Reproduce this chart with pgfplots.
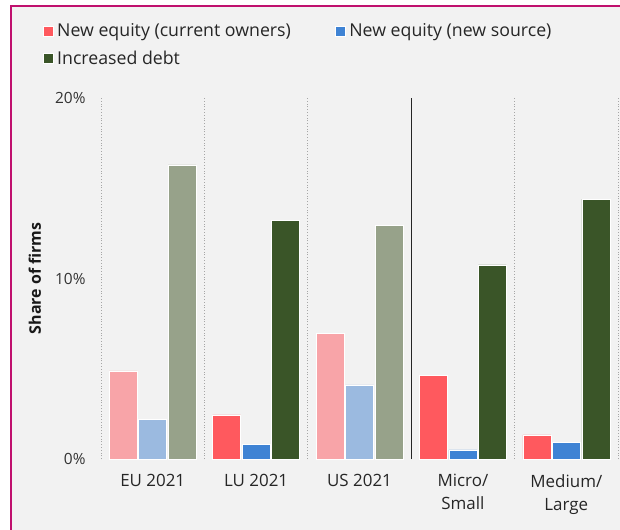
\documentclass[border=0pt]{standalone}
\usepackage{fontspec}
\setmainfont{Open Sans}
\usepackage{pgfplots}
\pgfplotsset{compat=1.18}

\definecolor{bgGray}{HTML}{F2F2F2}
\definecolor{frameMag}{HTML}{C0106E}
\definecolor{cRed}{HTML}{FF595E}
\definecolor{cBlue}{HTML}{3F83D4}
\definecolor{cGreen}{HTML}{3A5528}
\definecolor{fRed}{HTML}{F8A4A8}
\definecolor{fBlue}{HTML}{9BBAE0}
\definecolor{fGreen}{HTML}{97A28A}

\begin{document}
\begin{tikzpicture}
  % page: 620 x 530, axis box lower left at image px (101,459)
  \useasboundingbox (-101bp,-71bp) rectangle (519bp,459bp);
  \fill[white] (-101bp,-71bp) rectangle (519bp,459bp);
  \fill[bgGray] (-90bp,-71bp) rectangle (519bp,453bp);
  \draw[frameMag, line width=1.2bp] (-90bp,-71bp) -- (-90bp,453bp) -- (519bp,453bp);

  \begin{axis}[
    at={(0,0)}, anchor=south west,
    scale only axis, width=517bp, height=361bp,
    xmin=-0.5, xmax=4.5, ymin=0, ymax=20,
    axis line style={draw=none},
    major tick length=0pt,
    ytick={0,10,20}, yticklabels={0\%,10\%,20\%},
    yticklabel style={font=\fontsize{15.5}{18}\selectfont, text=black!80, xshift=-12bp},
    xtick={0,1,2,3,4},
    xticklabels={EU 2021, LU 2021, US 2021, Micro/\\Small, Medium/\\Large},
    xticklabel style={align=center, font=\fontsize{17}{23}\selectfont, text=black!85, yshift=-12bp},
    ylabel={\textbf{Share of firms}},
    ylabel style={font=\fontsize{16}{18}\selectfont, text=black!90, at={(axis description cs:-0.128,0.5)}, anchor=center},
    legend style={at={(axis description cs:-0.1122,1.2105)}, anchor=north west,
      draw=none, fill=none, inner sep=0pt,
      font=\fontsize{17.8}{20}\selectfont, text=black!85,
      legend columns=2, row sep=10bp,
      nodes={inner sep=1.5bp},
      /tikz/every even column/.append style={column sep=43bp}},
    legend cell align=left,
    legend image code/.code={\fill[#1] (0bp,-5bp) rectangle (10bp,5bp); \path (12bp,0bp);},
    clip=false,
  ]
    % separators
    \foreach \s in {-0.5,0.5,1.5,3.5,4.5} {
      \edef\tmp{\noexpand\draw[gray!70, dotted, line width=0.8bp] (axis cs:\s,0) -- (axis cs:\s,20);}\tmp
    }
    \draw[black!85, line width=1.2bp] (axis cs:2.5,0) -- (axis cs:2.5,20);

    % full colour bars (LU 2021, Micro/Small, Medium/Large)
    \addplot[ybar, bar width=28bp, bar shift=-29.5bp, fill=cRed, draw=white, line width=0.5bp]
      coordinates {(1,2.45) (3,4.65) (4,1.33)};
    \addlegendentry{New equity (current owners)}
    \addplot[ybar, bar width=28bp, bar shift=0bp, fill=cBlue, draw=white, line width=0.5bp]
      coordinates {(1,0.83) (3,0.5) (4,0.94)};
    \addlegendentry{New equity (new source)}
    \addplot[ybar, bar width=28bp, bar shift=29.5bp, fill=cGreen, draw=white, line width=0.5bp]
      coordinates {(1,13.2) (3,10.75) (4,14.4)};
    \addlegendentry{Increased debt}

    % faded bars (EU 2021, US 2021)
    \addplot[ybar, forget plot, bar width=28bp, bar shift=-29.5bp, fill=fRed, draw=white, line width=0.5bp]
      coordinates {(0,4.88) (2,6.98)};
    \addplot[ybar, forget plot, bar width=28bp, bar shift=0bp, fill=fBlue, draw=white, line width=0.5bp]
      coordinates {(0,2.2) (2,4.1)};
    \addplot[ybar, forget plot, bar width=28bp, bar shift=29.5bp, fill=fGreen, draw=white, line width=0.5bp]
      coordinates {(0,16.3) (2,12.96)};
  \end{axis}
\end{tikzpicture}
\end{document}
